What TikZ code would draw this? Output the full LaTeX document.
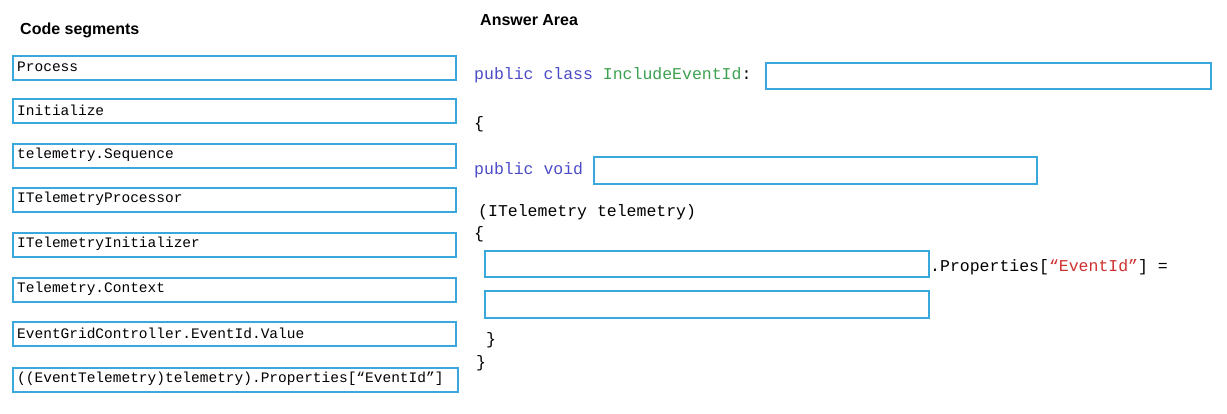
\documentclass[tikz,border=0pt]{standalone}
\usepackage{fontspec}
\setmainfont{Liberation Sans}
\newfontfamily\cmono{Liberation Mono}
\definecolor{bx}{HTML}{3AA8DC}
\definecolor{kw}{HTML}{4B4BC8}
\definecolor{cn}{HTML}{3CA050}
\definecolor{st}{HTML}{D03030}
\begin{document}
\begin{tikzpicture}[x=1pt,y=-1pt,
  seg/.style={draw=bx,line width=1.6pt,minimum height=24pt,anchor=north west,inner sep=0pt},
  lt/.style={anchor=west,font=\cmono\fontsize{14.5}{16}\selectfont,inner sep=0pt},
  rt/.style={anchor=west,font=\cmono\fontsize{16.5}{18}\selectfont,inner sep=0pt},
  ttl/.style={anchor=west,font=\bfseries\fontsize{16}{18}\selectfont,inner sep=0pt}]
\useasboundingbox (0,0) rectangle (1227,413);
\node[ttl] (t1) at (20,30) {Code segments};
\node[ttl] (t2) at (480,20) {Answer Area};
\foreach \n/\y/\txt/\w in {1/55/Process/443,2/98/Initialize/443,3/143/telemetry.Sequence/443,4/187/ITelemetryProcessor/443,5/232/ITelemetryInitializer/443,6/277/Telemetry.Context/443,7/321/EventGridController.EventId.Value/443,8/367/((EventTelemetry)telemetry).Properties[“EventId”]/445}{
  \node[seg,minimum width=\w pt] (b\n) at (12,\y) {};
  \node[lt] (l\n) at (17,\y+12) {\txt};
}
\node[rt] (c1) at (474,75) {\textcolor{kw}{public class} \textcolor{cn}{IncludeEventId}:};
\node[seg,minimum width=445pt,minimum height=26pt] (r1) at (765,62) {};
\node[rt] (c2) at (474,124) {\{};
\node[rt] (c3) at (474,170) {\textcolor{kw}{public void}};
\node[seg,minimum width=443pt,minimum height=27pt] (r2) at (593,156) {};
\node[rt] (c4) at (478,212) {(ITelemetry telemetry)};
\node[rt] (c5) at (474,234) {\{};
\node[seg,minimum width=444pt,minimum height=26pt] (r3) at (484,250) {};
\node[rt] (c6) at (930,267) {.Properties[\textcolor{st}{“EventId”}] =};
\node[seg,minimum width=444pt,minimum height=27pt] (r4) at (484,290) {};
\node[rt] (c7) at (486,340) {\}};
\node[rt] (c8) at (476,363) {\}};
\end{tikzpicture}
\end{document}
